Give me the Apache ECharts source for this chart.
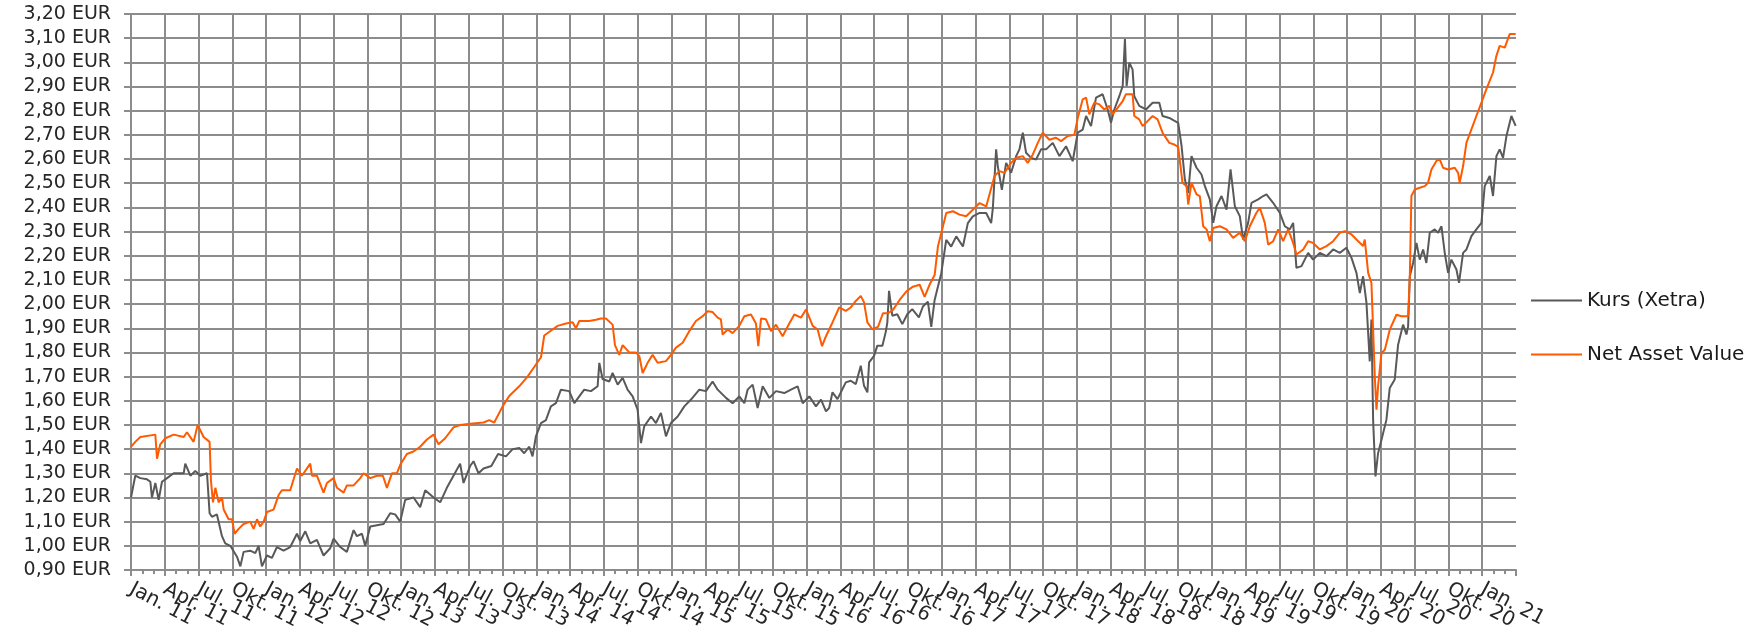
<!DOCTYPE html>
<html>
<head>
<meta charset="utf-8">
<script src="https://cdn.jsdelivr.net/npm/echarts@6/dist/echarts.min.js"></script>
<style>
html,body{margin:0;padding:0;background:#fff;}
#chart{width:1752px;height:633px;}
</style>
</head>
<body>
<div id="chart"></div>
<script>
// x values: months since 1 Jan 2011 (0 = Jan. 11, 120 = Jan. 21)
const quarterLabels = [
 'Jan. 11','Apr. 11','Jul. 11','Okt. 11','Jan. 12','Apr. 12','Jul. 12','Okt. 12',
 'Jan. 13','Apr. 13','Jul. 13','Okt. 13','Jan. 14','Apr. 14','Jul. 14','Okt. 14',
 'Jan. 15','Apr. 15','Jul. 15','Okt. 15','Jan. 16','Apr. 16','Jul. 16','Okt. 16',
 'Jan. 17','Apr. 17','Jul. 17','Okt. 17','Jan. 18','Apr. 18','Jul. 18','Okt. 18',
 'Jan. 19','Apr. 19','Jul. 19','Okt. 19','Jan. 20','Apr. 20','Jul. 20','Okt. 20',
 'Jan. 21'
];
const seriesNames = ['Kurs (Xetra)', 'Net Asset Value'];

const kursMonths = [
 0.0,0.38,0.83,1.42,1.72,1.86,2.16,2.46,2.75,3.2,3.79,4.68,4.82,5.27,5.71,6.15,6.75,6.98,7.19,7.63,
 8.08,8.37,8.82,9.41,9.71,10.0,10.59,11.04,11.33,11.63,12.07,12.52,12.96,13.55,14.14,14.74,15.03,15.48,15.92,16.51,
 17.1,17.69,17.99,18.58,19.17,19.77,20.06,20.51,20.8,21.25,21.84,22.43,23.02,23.46,23.91,24.35,25.09,25.68,26.13,26.87,
 27.46,28.05,28.64,29.23,29.53,30.12,30.42,30.86,31.31,32.0,32.6,33.3,33.89,34.48,34.92,35.37,35.66,35.96,36.41,36.85,
 37.29,37.74,38.18,38.92,39.37,39.81,40.25,40.85,41.44,41.59,41.88,42.48,42.77,43.22,43.66,44.1,44.55,44.99,45.29,45.58,
 46.18,46.62,47.06,47.51,47.95,48.55,49.14,49.73,50.47,51.06,51.65,52.1,52.84,53.43,54.02,54.47,54.76,55.21,55.65,56.1,
 56.69,57.28,58.02,58.61,59.2,59.65,60.24,60.83,61.28,61.72,62.0,62.3,62.74,63.04,63.48,63.92,64.37,64.81,65.1,65.4,
 65.55,65.99,66.28,66.73,67.02,67.17,67.32,67.61,68.05,68.5,68.94,69.38,69.97,70.33,70.77,71.07,71.37,71.66,71.96,72.4,
 72.84,73.29,73.88,74.32,74.76,75.36,75.95,76.39,76.54,76.83,76.98,77.34,77.72,78.16,78.61,78.9,79.2,79.49,79.94,80.38,
 80.82,81.27,81.86,82.45,83.04,83.63,84.08,84.52,84.82,85.26,85.7,86.29,86.74,87.03,87.33,87.77,88.07,88.27,88.42,88.66,
 88.95,89.1,89.54,90.14,90.73,91.32,91.61,92.21,92.6,93.0,93.3,93.59,93.89,94.18,94.63,95.07,95.37,95.81,96.11,96.4,
 96.85,97.29,97.65,98.03,98.47,98.77,99.21,99.51,100.1,100.55,100.84,101.43,102.02,102.47,102.91,103.21,103.5,103.95,104.54,104.98,
 105.58,106.17,106.76,107.35,107.94,108.39,108.83,109.13,109.42,109.72,110.01,110.16,110.31,110.52,110.75,111.05,111.49,111.79,112.23,112.53,
 112.97,113.27,113.42,113.57,113.86,114.16,114.45,114.75,115.04,115.34,115.78,116.08,116.38,116.67,116.97,117.26,117.71,117.94,118.3,118.6,
 119.04,119.48,119.93,120.22,120.67,120.96,121.26,121.55,121.85,122.15,122.59,122.97
];
const kursValues = [
 1.20,1.29,1.28,1.275,1.265,1.20,1.26,1.19,1.265,1.28,1.30,1.30,1.34,1.29,1.31,1.29,1.30,1.135,1.12,1.13,
 1.04,1.01,1.00,0.955,0.915,0.975,0.98,0.97,1.00,0.915,0.96,0.95,0.995,0.98,0.995,1.05,1.02,1.06,1.01,1.025,
 0.96,0.99,1.03,0.995,0.975,1.065,1.04,1.05,1.00,1.08,1.085,1.09,1.135,1.13,1.10,1.19,1.20,1.16,1.23,1.20,
 1.18,1.24,1.29,1.34,1.26,1.33,1.35,1.30,1.32,1.33,1.38,1.37,1.40,1.405,1.383,1.41,1.37,1.453,1.508,1.52,
 1.577,1.59,1.646,1.64,1.59,1.618,1.646,1.64,1.66,1.757,1.69,1.68,1.715,1.667,1.695,1.646,1.618,1.563,1.425,1.494,
 1.535,1.508,1.55,1.453,1.508,1.535,1.577,1.605,1.646,1.64,1.68,1.646,1.612,1.59,1.618,1.59,1.646,1.667,1.57,1.66,
 1.612,1.64,1.632,1.646,1.66,1.59,1.618,1.577,1.605,1.556,1.57,1.635,1.607,1.635,1.676,1.683,1.669,1.745,1.662,1.635,
 1.759,1.786,1.828,1.828,1.883,1.924,2.055,1.952,1.958,1.917,1.958,1.979,1.945,1.99,2.01,1.906,2.017,2.072,2.128,2.266,
 2.238,2.28,2.238,2.335,2.363,2.377,2.377,2.335,2.397,2.64,2.57,2.473,2.584,2.543,2.612,2.64,2.709,2.626,2.605,2.598,
 2.64,2.64,2.667,2.612,2.653,2.591,2.709,2.722,2.778,2.736,2.854,2.868,2.805,2.75,2.805,2.86,2.902,3.096,2.902,2.999,
 2.97,2.86,2.82,2.805,2.833,2.833,2.778,2.77,2.76,2.75,2.654,2.516,2.46,2.612,2.564,2.536,2.488,2.433,2.336,2.405,
 2.447,2.391,2.557,2.405,2.364,2.267,2.336,2.419,2.433,2.447,2.454,2.419,2.378,2.322,2.309,2.336,2.15,2.157,2.212,2.184,
 2.212,2.198,2.226,2.212,2.233,2.191,2.129,2.046,2.115,2.005,1.763,1.936,1.521,1.287,1.383,1.438,1.521,1.653,1.688,1.832,
 1.915,1.874,1.908,2.115,2.17,2.253,2.184,2.226,2.17,2.295,2.309,2.295,2.322,2.212,2.129,2.184,2.143,2.088,2.212,2.226,
 2.281,2.309,2.336,2.488,2.53,2.447,2.612,2.64,2.605,2.695,2.778,2.737
];

const navMonths = [
 0.0,0.38,0.83,2.16,2.31,2.6,3.05,3.79,4.68,4.97,5.56,5.92,6.45,6.98,7.1,7.28,7.49,7.78,8.08,8.23,
 8.67,8.97,9.2,9.56,10.0,10.59,10.89,11.19,11.48,11.78,12.07,12.66,13.11,13.4,14.14,14.74,15.18,15.92,16.07,16.51,
 17.1,17.4,17.99,18.29,18.88,19.17,19.77,20.36,20.65,21.25,21.84,22.37,22.73,23.17,23.61,23.91,24.5,25.09,25.68,26.28,
 26.87,27.31,27.9,28.64,29.23,30.12,31.31,31.82,32.26,33.0,33.59,34.48,35.22,35.96,36.41,36.7,37.44,37.89,38.63,39.22,
 39.51,39.81,40.7,41.29,41.73,42.18,42.77,42.98,43.36,43.66,44.25,44.84,45.14,45.44,45.88,46.32,46.77,47.51,47.95,48.4,
 48.99,49.58,50.17,50.77,51.21,51.65,52.1,52.39,52.54,52.99,53.43,54.02,54.47,55.06,55.5,55.71,55.95,56.39,56.84,57.28,
 57.87,58.46,58.91,59.5,59.95,60.54,60.98,61.37,61.72,62.3,62.89,63.48,63.92,64.37,64.81,65.1,65.4,65.84,66.34,66.78,
 67.23,67.67,68.26,68.85,69.44,70.04,70.48,70.92,71.37,71.66,72.1,72.4,72.99,73.58,74.17,74.76,75.36,75.95,76.24,76.69,
 77.13,77.57,78.16,78.61,79.2,79.64,80.09,80.53,80.97,81.56,82.15,82.6,83.19,83.78,84.08,84.52,84.82,85.11,85.55,86.0,
 86.44,86.88,87.18,87.62,88.07,88.36,88.95,89.1,89.54,89.84,90.28,90.73,91.17,91.61,92.21,92.65,93.0,93.38,93.74,93.89,
 94.18,94.63,94.92,95.22,95.52,95.81,96.11,96.7,97.29,97.88,98.47,98.92,99.36,99.95,100.25,100.69,100.99,101.43,101.88,102.32,
 102.76,103.21,103.5,104.1,104.54,104.98,105.58,106.17,106.76,107.35,107.8,108.39,108.83,109.42,109.57,109.87,110.16,110.46,110.61,110.75,
 111.05,111.35,111.79,112.38,112.83,113.42,113.57,113.71,114.01,114.45,114.9,115.19,115.49,115.93,116.23,116.52,116.97,117.56,117.86,118.0,
 118.3,118.6,119.04,119.48,119.93,120.37,120.96,121.26,121.55,122.0,122.44,122.97
];
const navValues = [
 1.41,1.43,1.45,1.46,1.36,1.42,1.445,1.46,1.45,1.47,1.43,1.50,1.45,1.43,1.27,1.18,1.24,1.18,1.20,1.15,
 1.11,1.11,1.05,1.07,1.09,1.10,1.07,1.11,1.08,1.10,1.14,1.15,1.21,1.23,1.23,1.32,1.29,1.34,1.29,1.29,
 1.22,1.26,1.28,1.24,1.22,1.25,1.25,1.28,1.30,1.28,1.29,1.29,1.24,1.30,1.30,1.335,1.38,1.39,1.41,1.44,
 1.46,1.42,1.445,1.49,1.50,1.505,1.51,1.52,1.51,1.577,1.62,1.66,1.70,1.75,1.78,1.87,1.895,1.91,1.92,1.925,
 1.90,1.93,1.93,1.935,1.94,1.94,1.915,1.83,1.79,1.83,1.80,1.80,1.785,1.715,1.757,1.79,1.757,1.764,1.79,1.82,
 1.84,1.888,1.93,1.95,1.97,1.967,1.944,1.937,1.874,1.895,1.88,1.91,1.95,1.957,1.92,1.826,1.94,1.937,1.888,1.915,
 1.867,1.92,1.957,1.944,1.978,1.91,1.895,1.826,1.867,1.924,1.986,1.972,1.986,2.013,2.034,2.007,1.924,1.896,1.906,1.962,
 1.962,1.976,2.017,2.052,2.072,2.08,2.03,2.08,2.12,2.238,2.32,2.377,2.384,2.37,2.363,2.39,2.418,2.404,2.453,2.53,
 2.55,2.543,2.584,2.605,2.612,2.584,2.619,2.667,2.709,2.68,2.688,2.674,2.695,2.70,2.77,2.847,2.854,2.785,2.833,2.826,
 2.805,2.82,2.785,2.812,2.84,2.868,2.868,2.778,2.764,2.736,2.757,2.778,2.764,2.709,2.667,2.66,2.65,2.502,2.488,2.412,
 2.502,2.454,2.447,2.322,2.309,2.26,2.315,2.322,2.309,2.274,2.295,2.26,2.322,2.378,2.398,2.336,2.246,2.26,2.309,2.26,
 2.309,2.253,2.205,2.226,2.26,2.253,2.226,2.24,2.26,2.295,2.302,2.288,2.267,2.24,2.267,2.129,2.088,1.70,1.563,1.66,
 1.797,1.811,1.894,1.956,1.95,1.95,2.115,2.447,2.474,2.481,2.488,2.502,2.557,2.592,2.599,2.564,2.557,2.564,2.543,2.502,
 2.571,2.668,2.723,2.778,2.833,2.889,2.958,3.027,3.068,3.061,3.117,3.117
];

function pairs(xs, ys) { return xs.map((x, i) => [x, ys[i]]); }

// one category slot per month (0..123); quarter starts carry the label text
const monthSlots = [];
for (let m = 0; m <= 123; m++) {
  monthSlots.push(m % 3 === 0 && m / 3 < quarterLabels.length ? quarterLabels[m / 3] : '');
}

const gridColor = '#8c8c8c';
const labelFont = 'DejaVu Sans';

const chart = echarts.init(document.getElementById('chart'), null, {renderer: 'canvas'});
chart.setOption({
  animation: false,
  backgroundColor: '#ffffff',
  grid: {left: 131, right: 236, top: 14, bottom: 63, containLabel: false},
  legend: {
    orient: 'vertical',
    left: 1531,
    top: 290,
    padding: 0,
    itemWidth: 51,
    itemHeight: 2,
    itemGap: 33,
    icon: 'rect',
    textStyle: {fontFamily: labelFont, fontSize: 20, color: '#1a1a1a', lineHeight: 21},
    data: seriesNames
  },
  xAxis: [
    {
      type: 'value',
      min: 0,
      max: 123,
      interval: 3,
      axisLine: {show: true, lineStyle: {color: gridColor, width: 2}},
      axisTick: {show: true, length: 6, lineStyle: {color: gridColor, width: 2}},
      minorTick: {show: true, splitNumber: 3, length: 4, lineStyle: {color: gridColor, width: 2}},
      splitLine: {show: true, showMaxLine: false, lineStyle: {color: gridColor, width: 2}},
      axisLabel: {show: false}
    },
    {
      type: 'category',
      position: 'bottom',
      data: monthSlots,
      boundaryGap: false,
      axisLine: {show: false},
      axisTick: {show: false},
      splitLine: {show: false},
      axisLabel: {
        interval: 0,
        rotate: -28,
        margin: 18,
        fontFamily: labelFont,
        fontSize: 20,
        color: '#262626',
        hideOverlap: false
      }
    }
  ],
  yAxis: {
    type: 'value',
    min: 0.9,
    max: 3.2,
    interval: 0.1,
    axisLine: {show: true, lineStyle: {color: gridColor, width: 2}},
    axisTick: {show: true, length: 7, lineStyle: {color: gridColor, width: 2}},
    splitLine: {show: true, lineStyle: {color: gridColor, width: 2}},
    axisLabel: {
      margin: 20,
      fontFamily: labelFont,
      fontSize: 19,
      color: '#262626',
      formatter: function (v) { return v.toFixed(2).replace('.', ',') + ' EUR'; }
    }
  },
  series: [
    {
      name: seriesNames[0],
      type: 'line',
      xAxisIndex: 0,
      data: pairs(kursMonths, kursValues),
      showSymbol: false,
      symbol: 'none',
      lineStyle: {color: '#595959', width: 2},
      itemStyle: {color: '#595959'},
      z: 3
    },
    {
      name: seriesNames[1],
      type: 'line',
      xAxisIndex: 0,
      data: pairs(navMonths, navValues),
      showSymbol: false,
      symbol: 'none',
      lineStyle: {color: '#ff5a00', width: 2},
      itemStyle: {color: '#ff5a00'},
      z: 4
    }
  ]
});
</script>
</body>
</html>
